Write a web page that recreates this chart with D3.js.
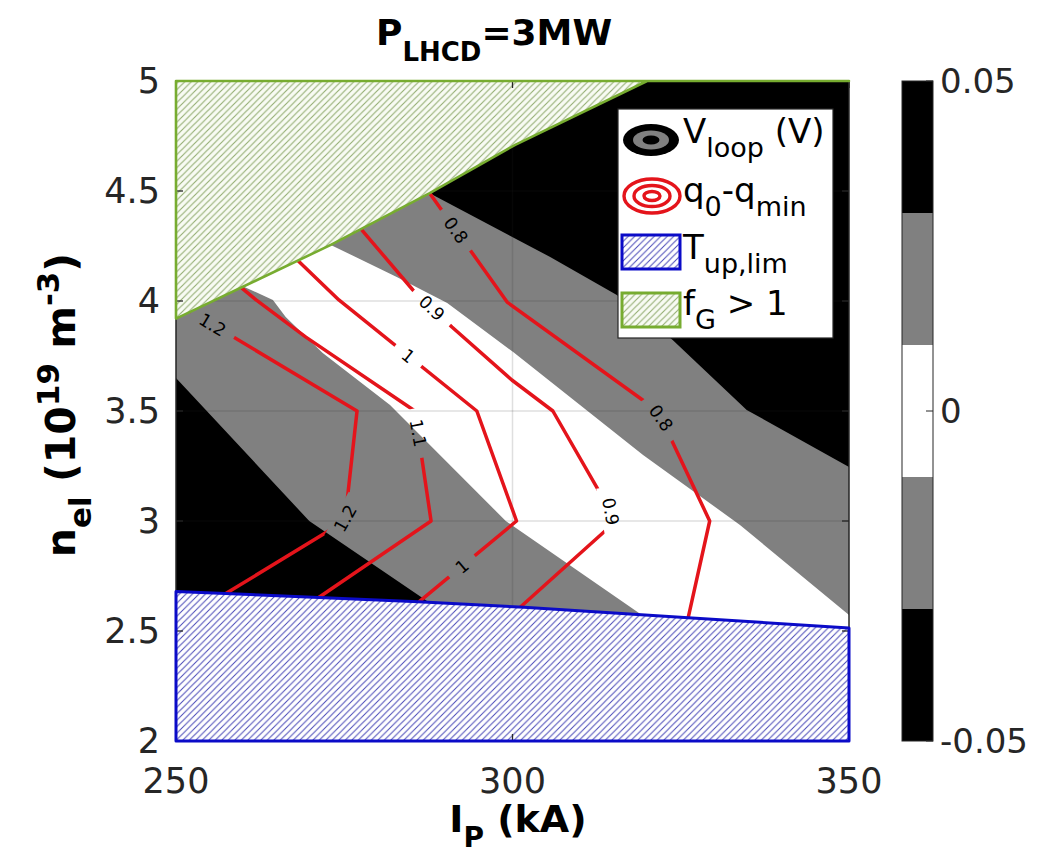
<!DOCTYPE html>
<html><head><meta charset="utf-8">
<script src="https://cdn.jsdelivr.net/npm/d3@7"></script>
<style>body{margin:0;background:#fff} svg{display:block} text{font-family:"DejaVu Sans",sans-serif;white-space:pre}</style>
</head><body>
<svg id="chart" width="1056" height="861"></svg>
<script>
// ---------------- data ----------------
const xDomain = [250, 350];            // I_P (kA)
const yDomain = [2, 5];                // n_el (1e19 m^-3)
const xTicks = [250, 300, 350];
const yTicks = [2, 2.5, 3, 3.5, 4, 4.5, 5];
const cbarLevels = [-0.05, -0.03, -0.01, 0.01, 0.03, 0.05];
const cbarColors = ["#000000", "#808080", "#ffffff", "#808080", "#000000"];
const cbarTicks = [-0.05, 0, 0.05];

// V_loop contour boundaries [I, n]
const vloopM003 = [[250, 3.65], [269.8, 3.0], [288.0, 2.622]];
const vloopM001 = [[260.0, 4.066], [264.4, 4.005], [266.3, 3.927], [271.8, 3.764], [281.8, 3.527], [299.0, 3.0], [318.9, 2.58]];
const vloopP001 = [[273.0, 4.255], [282.8, 4.109], [290.3, 3.991], [300.1, 3.768], [319.4, 3.3], [333.8, 2.982], [350, 2.573]];
const vloopP003 = [[287.7, 4.49], [305.6, 4.2], [315.5, 4.027], [323.8, 3.823], [334.8, 3.505], [350, 3.245]];

// Greenwald limit (f_G = 1) and upper temperature limit boundaries
const fgLine = [[250, 3.92], [273.0, 4.255], [287.7, 4.49], [300.4, 4.71], [320, 5.0], [350, 5.0]];
const tupLine = [[250, 2.68], [286, 2.633], [301.7, 2.608], [326.7, 2.559], [350, 2.514]];

// q0 - qmin contours
const q08 = [[287.7, 4.49], [299.2, 3.995], [321.6, 3.5], [329.3, 3.0], [326.1, 2.56]];
const q09 = [[277.5, 4.327], [285.2, 4.05], [291.0, 3.882], [299.9, 3.641], [306.0, 3.5], [315.4, 3.0], [301.1, 2.607]];
const q10 = [[268.1, 4.184], [274.2, 4.005], [294.7, 3.5], [300.6, 3.0], [286.1, 2.632]];
const q11 = [[259.7, 4.061], [261.9, 4.005], [269.3, 3.836], [285.5, 3.5], [287.9, 3.0], [271.2, 2.652]];
const q12 = [[252.2, 3.952], [276.9, 3.5], [275.1, 3.0], [257.4, 2.67]];
const qLevels = ["0.8", "0.9", "1", "1.1", "1.2"];
const qLines = [q08, q09, q10, q11, q12];
// label anchor points [I, n] per contour
const qLabelPts = [
  [[291.5, 4.32], [321.5, 3.46]],
  [[288.0, 3.968], [314.4, 3.04]],
  [[284.5, 3.75], [292.6, 2.79]],
  [[286.1, 3.4]],
  [[255.5, 3.895], [274.5, 3.014]]
];

// ---------------- layout ----------------
const svg = d3.select("#chart");
const P = {left: 176, right: 849, top: 81, bottom: 741};
const x = d3.scaleLinear().domain(xDomain).range([P.left, P.right]);
const y = d3.scaleLinear().domain(yDomain).range([P.bottom, P.top]);
const line = d3.line().x(d => x(d[0])).y(d => y(d[1]));
const axisColor = "#262626";
const qColor = "#e4141b";
const defs = svg.append("defs");

defs.append("clipPath").attr("id", "plotClip").append("rect")
  .attr("x", P.left).attr("y", P.top).attr("width", P.right - P.left).attr("height", P.bottom - P.top);

function hatch(id, bg, stroke, s, sw) {
  const p = defs.append("pattern").attr("id", id).attr("patternUnits", "userSpaceOnUse")
    .attr("width", s).attr("height", s);
  p.append("rect").attr("width", s).attr("height", s).attr("fill", bg);
  p.append("path")
    .attr("d", `M0,${s} L${s},0 M${-s / 4},${s / 4} L${s / 4},${-s / 4} M${3 * s / 4},${5 * s / 4} L${5 * s / 4},${3 * s / 4}`)
    .attr("stroke", stroke).attr("stroke-width", sw);
}
hatch("hBlue", "#ffffff", "#4a4ab8", 6.5, 1);
hatch("hGreen", "#f8fbf3", "#93ad72", 6.5, 1.1);

const plotG = svg.append("g").attr("clip-path", "url(#plotClip)");

// background (|V| > 0.03)
plotG.append("rect").attr("x", P.left).attr("y", P.top)
  .attr("width", P.right - P.left).attr("height", P.bottom - P.top).attr("fill", cbarColors[0]);

// gray band (0.01 < |V| < 0.03)
const grayPoly = [[xDomain[0], yDomain[1]], ...vloopP003, [xDomain[1], yDomain[0]],
  [vloopM003[vloopM003.length - 1][0], yDomain[0]], ...vloopM003.slice().reverse()];
plotG.append("path").attr("d", line(grayPoly) + "Z").attr("fill", cbarColors[1]);

// white band (|V| < 0.01)
const whitePoly = [...vloopM001, [vloopM001[vloopM001.length - 1][0], yDomain[0]], [xDomain[1], yDomain[0]],
  ...vloopP001.slice().reverse()];
plotG.append("path").attr("d", line(whitePoly) + "Z").attr("fill", cbarColors[2]);

// grid
const gridG = plotG.append("g").attr("stroke", axisColor).attr("stroke-opacity", 0.15).attr("stroke-width", 1.5);
xTicks.slice(1, -1).forEach(t => gridG.append("line").attr("x1", x(t)).attr("x2", x(t)).attr("y1", P.top).attr("y2", P.bottom));
yTicks.slice(1, -1).forEach(t => gridG.append("line").attr("y1", y(t)).attr("y2", y(t)).attr("x1", P.left).attr("x2", P.right));

// ---- q contours with labels ----
const mask = defs.append("mask").attr("id", "lblMask").attr("maskUnits", "userSpaceOnUse")
  .attr("x", 0).attr("y", 0).attr("width", 1056).attr("height", 861);
mask.append("rect").attr("width", 1056).attr("height", 861).attr("fill", "#fff");
const contG = plotG.append("g").attr("mask", "url(#lblMask)");
const labG = plotG.append("g");

function polyPix(pts) { return pts.map(d => [x(d[0]), y(d[1])]); }
function cumLen(pp) { const c = [0]; for (let i = 1; i < pp.length; i++) c.push(c[i - 1] + Math.hypot(pp[i][0] - pp[i - 1][0], pp[i][1] - pp[i - 1][1])); return c; }
function pointAt(pp, c, s) {
  s = Math.max(0, Math.min(c[c.length - 1], s));
  for (let i = 1; i < pp.length; i++) if (s <= c[i]) {
    const t = (s - c[i - 1]) / (c[i] - c[i - 1] || 1);
    return [pp[i - 1][0] + t * (pp[i][0] - pp[i - 1][0]), pp[i - 1][1] + t * (pp[i][1] - pp[i - 1][1])];
  }
  return pp[pp.length - 1];
}
function nearestS(pp, c, q) {
  let best = 1e9, bs = 0;
  for (let i = 1; i < pp.length; i++) {
    const ax = pp[i - 1][0], ay = pp[i - 1][1], bx = pp[i][0], by = pp[i][1];
    const dx = bx - ax, dy = by - ay, L2 = dx * dx + dy * dy;
    let t = ((q[0] - ax) * dx + (q[1] - ay) * dy) / L2; t = Math.max(0, Math.min(1, t));
    const px = ax + t * dx, py = ay + t * dy, d = Math.hypot(q[0] - px, q[1] - py);
    if (d < best) { best = d; bs = c[i - 1] + t * Math.sqrt(L2); }
  }
  return bs;
}

qLines.forEach((pts, k) => {
  contG.append("path").attr("d", line(pts)).attr("fill", "none")
    .attr("stroke", qColor).attr("stroke-width", 3.5).attr("stroke-linejoin", "round");
  const pp = polyPix(pts), c = cumLen(pp);
  qLabelPts[k].forEach(lp => {
    const s0 = nearestS(pp, c, [x(lp[0]), y(lp[1])]);
    const ctr = pointAt(pp, c, s0);
    const t = labG.append("text").attr("font-size", 17.5).attr("fill", "#000")
      .attr("text-anchor", "middle").attr("dy", "0.36em").text(qLevels[k]);
    const w = t.node().getComputedTextLength();
    const h = w / 2 + 11;
    const a = pointAt(pp, c, s0 - h), b = pointAt(pp, c, s0 + h);
    let ang = Math.atan2(b[1] - a[1], b[0] - a[0]) * 180 / Math.PI;
    if (ang > 90) ang -= 180; if (ang <= -90) ang += 180;
    t.attr("transform", `translate(${ctr[0]},${ctr[1]}) rotate(${ang})`);
    mask.append("rect").attr("x", -h).attr("y", -10).attr("width", 2 * h).attr("height", 20)
      .attr("fill", "#000").attr("transform", `translate(${ctr[0]},${ctr[1]}) rotate(${ang})`);
  });
});

// ---- hatched patches ----
const greenPoly = [...fgLine, [xDomain[0], yDomain[1]]];
const bluePoly = [...tupLine, [xDomain[1], yDomain[0]], [xDomain[0], yDomain[0]]];
svg.append("path").attr("d", line(greenPoly) + "Z").attr("fill", "url(#hGreen)");
svg.append("path").attr("d", line(bluePoly) + "Z").attr("fill", "url(#hBlue)");

// axes box & ticks
svg.append("rect").attr("x", P.left).attr("y", P.top).attr("width", P.right - P.left).attr("height", P.bottom - P.top)
  .attr("fill", "none").attr("stroke", axisColor).attr("stroke-width", 1.5);
const tk = svg.append("g").attr("stroke", axisColor).attr("stroke-width", 1.3);
const TL = 7;
xTicks.forEach(t => {
  tk.append("line").attr("x1", x(t)).attr("x2", x(t)).attr("y1", P.bottom).attr("y2", P.bottom - TL);
  tk.append("line").attr("x1", x(t)).attr("x2", x(t)).attr("y1", P.top).attr("y2", P.top + TL);
});
yTicks.forEach(t => {
  tk.append("line").attr("y1", y(t)).attr("y2", y(t)).attr("x1", P.left).attr("x2", P.left + TL);
  tk.append("line").attr("y1", y(t)).attr("y2", y(t)).attr("x1", P.right).attr("x2", P.right - TL);
});

// patch outlines on top
svg.append("path").attr("d", line(greenPoly) + "Z").attr("fill", "none")
  .attr("stroke", "#77ac30").attr("stroke-width", 2.6).attr("stroke-linejoin", "round");
svg.append("path").attr("d", line(bluePoly) + "Z").attr("fill", "none")
  .attr("stroke", "#0b0bc8").attr("stroke-width", 3).attr("stroke-linejoin", "round");

// tick labels
const tlab = svg.append("g").attr("fill", axisColor).attr("font-size", 35);
xTicks.forEach(t => tlab.append("text").attr("x", x(t)).attr("y", 793).attr("text-anchor", "middle").text(t));
yTicks.forEach(t => tlab.append("text").attr("x", 160).attr("y", y(t) + 12).attr("text-anchor", "end").text(t));

// rich text helper
function rich(sel, parts, size, subSize, subShift, supShift) {
  let cur = 0;
  parts.forEach(p => {
    const target = p.sub ? subShift : (p.sup ? -supShift : 0);
    sel.append("tspan").attr("dy", target - cur).attr("font-size", (p.sub || p.sup) ? subSize : size).text(p.t);
    cur = target;
  });
}

// title
rich(svg.append("text").attr("x", 376).attr("y", 45).attr("font-weight", "bold").attr("fill", "#000"),
  [{t: "P"}, {t: "LHCD", sub: true}, {t: "=3MW"}], 36, 26, 16, 0);

// axis labels
rich(svg.append("text").attr("x", 518).attr("y", 832).attr("text-anchor", "middle").attr("font-weight", "bold").attr("fill", "#000"),
  [{t: "I"}, {t: "P", sub: true}, {t: " (kA)"}], 38, 28, 15, 0);
rich(svg.append("text").attr("transform", "translate(75,405) rotate(-90)").attr("text-anchor", "middle").attr("font-weight", "bold").attr("fill", "#000"),
  [{t: "n"}, {t: "el", sub: true}, {t: " (10"}, {t: "19", sup: true}, {t: " m"}, {t: "-3", sup: true}, {t: ")"}], 41, 31, 16, 16);

// ---- colorbar ----
const CB = {left: 902, right: 933};
const yc = d3.scaleLinear().domain([cbarLevels[0], cbarLevels[cbarLevels.length - 1]]).range([P.bottom, P.top]);
cbarColors.forEach((col, i) => {
  svg.append("rect").attr("x", CB.left).attr("width", CB.right - CB.left)
    .attr("y", yc(cbarLevels[i + 1])).attr("height", yc(cbarLevels[i]) - yc(cbarLevels[i + 1])).attr("fill", col);
});
svg.append("rect").attr("x", CB.left).attr("y", P.top).attr("width", CB.right - CB.left).attr("height", P.bottom - P.top)
  .attr("fill", "none").attr("stroke", axisColor).attr("stroke-width", 1);
cbarTicks.forEach(t => {
  svg.append("line").attr("x1", CB.right).attr("x2", CB.right - 7).attr("y1", yc(t)).attr("y2", yc(t)).attr("stroke", axisColor).attr("stroke-width", 1);
  svg.append("text").attr("x", 940).attr("y", yc(t)).attr("dy", "0.36em").attr("font-size", 34).attr("fill", axisColor).text(t);
});

// ---- legend ----
const lg = svg.append("g");
lg.append("rect").attr("x", 618).attr("y", 109).attr("width", 215).attr("height", 229)
  .attr("fill", "#fff").attr("stroke", axisColor).attr("stroke-width", 1.2);
// V_loop icon
[[28, 16, "#000"], [18, 9.5, "#808080"], [8.5, 4.5, "#000"]].forEach(e =>
  lg.append("ellipse").attr("cx", 651).attr("cy", 140).attr("rx", e[0]).attr("ry", e[1]).attr("fill", e[2]));
// q icon
[[28, 17], [18, 10.5], [8, 4.5]].forEach(e =>
  lg.append("ellipse").attr("cx", 652).attr("cy", 196).attr("rx", e[0]).attr("ry", e[1])
    .attr("fill", "none").attr("stroke", qColor).attr("stroke-width", 3.4));
lg.append("rect").attr("x", 622).attr("y", 235).attr("width", 58).attr("height", 34)
  .attr("fill", "url(#hBlue)").attr("stroke", "#0b0bc8").attr("stroke-width", 3);
lg.append("rect").attr("x", 622).attr("y", 293).attr("width", 58).attr("height", 34)
  .attr("fill", "url(#hGreen)").attr("stroke", "#77ac30").attr("stroke-width", 3);
const legItems = [
  {yb: 143, parts: [{t: "V"}, {t: "loop", sub: true}, {t: " (V)"}]},
  {yb: 202, parts: [{t: "q"}, {t: "0", sub: true}, {t: "-q"}, {t: "min", sub: true}]},
  {yb: 259, parts: [{t: "T"}, {t: "up,lim", sub: true}]},
  {yb: 315, parts: [{t: "f"}, {t: "G", sub: true}, {t: " > 1"}]}
];
legItems.forEach(it => rich(lg.append("text").attr("x", 683).attr("y", it.yb).attr("fill", "#000"), it.parts, 34, 27, 14, 0));
</script>
</body></html>
